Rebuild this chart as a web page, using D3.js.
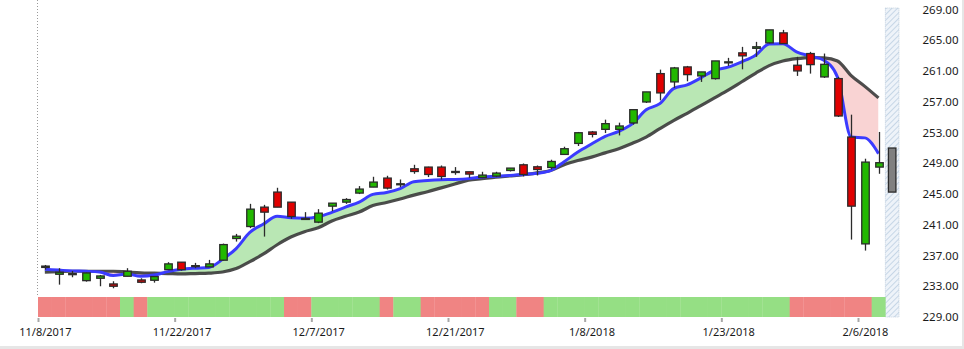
<!DOCTYPE html>
<html><head><meta charset="utf-8">
<script src="https://cdn.jsdelivr.net/npm/d3@7"></script>
<style>
html,body{margin:0;padding:0;background:#fff;}
svg{display:block;}
text{font-family:"Noto Sans","Open Sans",sans-serif;fill:#1a1a1a;}
</style></head><body>
<svg id="chart" width="964" height="349"></svg>
<script>
const dates = ["11/8/2017","11/9/2017","11/10/2017","11/13/2017","11/14/2017","11/15/2017","11/16/2017","11/17/2017","11/20/2017","11/21/2017",
"11/22/2017","11/24/2017","11/27/2017","11/28/2017","11/29/2017","11/30/2017","12/1/2017","12/4/2017","12/5/2017","12/6/2017",
"12/7/2017","12/8/2017","12/11/2017","12/12/2017","12/13/2017","12/14/2017","12/15/2017","12/18/2017","12/19/2017","12/20/2017",
"12/21/2017","12/22/2017","12/26/2017","12/27/2017","12/28/2017","12/29/2017","1/2/2018","1/3/2018","1/4/2018","1/5/2018",
"1/8/2018","1/9/2018","1/10/2018","1/11/2018","1/12/2018","1/16/2018","1/17/2018","1/18/2018","1/19/2018","1/22/2018",
"1/23/2018","1/24/2018","1/25/2018","1/26/2018","1/29/2018","1/30/2018","1/31/2018","2/1/2018","2/2/2018","2/5/2018",
"2/6/2018","2/7/2018","2/8/2018"];
const open  = [235.45,234.56,234.64,233.73,234.04,233.30,234.30,233.82,233.78,235.16,236.13,235.68,235.52,236.39,239.21,240.77,243.29,245.25,243.94,241.82,
241.34,243.42,243.94,245.12,245.90,247.07,246.33,248.28,248.50,248.50,247.93,247.89,247.15,247.33,248.06,248.80,248.54,248.45,250.15,251.58,
253.07,253.41,253.41,254.24,256.97,260.66,259.58,261.53,260.36,260.01,262.19,263.36,263.95,264.66,265.96,261.75,263.27,260.23,260.01,252.41,
238.51,248.50];
const high  = [235.77,235.35,234.99,234.77,234.47,233.65,235.35,234.04,234.30,236.13,236.13,236.04,236.43,238.55,239.81,243.72,243.59,245.81,243.94,242.64,
243.03,243.81,244.46,246.03,247.24,247.37,246.89,248.80,248.55,248.71,248.50,247.89,247.89,247.89,248.37,248.97,248.71,249.46,251.15,253.07,
253.20,254.67,254.28,255.97,258.28,261.18,261.53,261.66,260.88,262.31,262.71,264.14,264.79,266.35,266.35,262.84,263.49,263.27,260.23,255.32,
249.59,253.07];
const low   = [235.16,233.21,234.17,233.60,233.00,232.74,234.30,233.39,233.47,235.16,235.03,235.35,235.50,236.35,238.81,240.56,239.46,243.29,241.77,241.70,
241.21,242.77,243.72,244.99,245.90,245.59,245.90,247.63,247.20,246.89,247.50,247.11,247.07,247.20,247.93,247.28,247.41,248.19,250.15,251.24,
252.36,252.93,252.62,254.02,256.84,257.18,258.80,259.66,259.58,259.88,261.66,261.22,262.84,264.60,264.57,260.36,260.66,260.10,255.02,239.07,
237.64,247.63];
const close = [235.62,234.82,234.64,234.73,234.34,233.00,234.95,233.52,234.26,235.91,235.16,235.68,235.91,238.42,239.51,243.03,242.64,243.29,242.07,241.75,
242.51,243.81,244.28,245.64,246.55,245.77,246.33,247.93,247.54,247.28,247.93,247.59,247.46,247.72,248.37,247.54,248.19,249.23,250.89,252.97,
252.76,254.15,253.85,255.97,258.28,258.15,261.40,260.53,260.88,262.31,262.19,262.97,264.15,266.35,264.57,261.01,261.83,261.87,255.15,243.42,
249.15,249.07];
const fastMA = [235.20,235.10,235.00,234.95,234.85,234.40,234.60,234.30,234.45,234.90,235.20,235.35,235.45,236.50,237.90,240.00,241.10,242.10,241.90,241.85,
242.05,242.60,243.30,243.95,244.95,245.20,245.70,246.60,246.75,246.85,246.90,247.00,247.20,247.30,247.40,247.55,247.70,248.05,249.20,250.45,
251.50,252.50,253.15,254.15,255.95,256.75,258.70,259.20,260.10,261.10,261.50,262.20,263.05,264.50,264.55,263.50,262.95,262.40,260.20,252.40,
252.30,250.25];
const slowMA = [234.85,234.90,234.95,234.95,234.95,234.95,234.85,234.75,234.70,234.65,234.60,234.65,234.70,234.85,235.30,236.20,237.20,238.40,239.40,240.10,
240.60,241.50,242.10,242.65,243.50,243.90,244.35,244.85,245.30,245.80,246.30,246.80,247.00,247.20,247.35,247.50,247.75,248.05,248.80,249.35,
249.80,250.35,250.90,251.60,252.40,253.50,254.55,255.50,256.50,257.50,258.50,259.60,260.70,261.70,262.30,262.60,262.75,262.70,262.30,260.40,
259.00,257.50];
const signal = ["r","r","r","r","r","r","g","r","g","g","g","g","g","g","g","g","g","g","r","r",
"g","g","g","g","g","r","g","g","r","r","r","r","r","g","g","r","r","g","g","g",
"g","g","g","g","g","g","g","g","g","g","g","g","g","g","g","r","r","r","r","r",
"r","g"];
const forecastOpen = [250.98];
const forecastClose = [245.25];
const yTicks = [229,233,237,241,245,249,253,257,261,265,269];
const xTickIdx = [0,10,20,30,40,50,60];

const svg = d3.select("#chart");
const nSlots = dates.length; // 63
const x = d3.scaleLinear().domain([0, nSlots]).range([38, 899]);
const y = d3.scaleLinear().domain([229, 269]).range([317, 9.5]);
const step = x(1) - x(0);
const cw = 7.5;
const plotTop = 8, plotBottom = 317;

// background frame
svg.append("rect").attr("x",0).attr("y",0).attr("width",964).attr("height",349).attr("fill","#fff");
svg.append("rect").attr("x",0).attr("y",346).attr("width",964).attr("height",3).attr("fill","#e6e6e6");
svg.append("rect").attr("x",962).attr("y",0).attr("width",2).attr("height",349).attr("fill","#e6e6e6");

const defs = svg.append("defs");
const pat = defs.append("pattern").attr("id","hatch").attr("width",4).attr("height",4)
  .attr("patternUnits","userSpaceOnUse").attr("patternTransform","rotate(45)");
pat.append("rect").attr("width",4).attr("height",4).attr("fill","#eef3f9");
pat.append("line").attr("x1",0).attr("y1",0).attr("x2",0).attr("y2",4).attr("stroke","#c6d6e6").attr("stroke-width",2);

// left dotted line
svg.append("line").attr("x1",37.5).attr("x2",37.5).attr("y1",0).attr("y2",297)
  .attr("stroke","#9a9a9a").attr("stroke-dasharray","1,2");

// hatched future area
const fx0 = x(nSlots-1), fx1 = x(nSlots);
svg.append("rect").attr("x",fx0).attr("y",plotTop).attr("width",fx1-fx0).attr("height",plotBottom-plotTop)
  .attr("fill","url(#hatch)").attr("stroke","#b8c8d8").attr("stroke-dasharray","1,1").attr("stroke-width",0.8);

// signal strip
svg.append("g").selectAll("rect").data(signal).join("rect")
  .attr("x",(d,i)=>x(i)).attr("width",step+0.3).attr("y",297).attr("height",20)
  .attr("fill",d=>d==="r"?"#f08483":"#95df84");

// difference fill between MAs
const idx = d3.range(fastMA.length);
const cx = i => x(i+0.5);
const curve = d3.curveMonotoneX;
defs.append("clipPath").attr("id","belowFast").append("path")
  .attr("d", d3.area().curve(curve).x(cx).y0(plotBottom+50).y1(i=>y(fastMA[i]))(idx));
defs.append("clipPath").attr("id","aboveFast").append("path")
  .attr("d", d3.area().curve(curve).x(cx).y0(-50).y1(i=>y(fastMA[i]))(idx));
svg.append("path").attr("clip-path","url(#belowFast)").attr("fill","#b9e7b4")
  .attr("d", d3.area().curve(curve).x(cx).y0(i=>y(slowMA[i])).y1(-50)(idx));
svg.append("path").attr("clip-path","url(#aboveFast)").attr("fill","#f9d3d3")
  .attr("d", d3.area().curve(curve).x(cx).y0(i=>y(slowMA[i])).y1(plotBottom+50)(idx));

// MA lines
svg.append("path").attr("fill","none").attr("stroke","#3a3a3a").attr("stroke-width",3.2)
  .attr("stroke-linejoin","round").attr("opacity",0.9)
  .attr("d", d3.line().curve(curve).x(cx).y(i=>y(slowMA[i]))(idx));
svg.append("path").attr("fill","none").attr("stroke","#3b3bff").attr("stroke-width",3)
  .attr("stroke-linejoin","round")
  .attr("d", d3.line().curve(curve).x(cx).y(i=>y(fastMA[i]))(idx));

// candles
const cg = svg.append("g");
const cidx = d3.range(open.length);
cg.selectAll("line.w").data(cidx).join("line").attr("class","w")
  .attr("x1",i=>Math.round(cx(i))+0.5).attr("x2",i=>Math.round(cx(i))+0.5)
  .attr("y1",i=>y(high[i])).attr("y2",i=>y(low[i]))
  .attr("stroke","#2b2b2b").attr("stroke-width",1.3);
cg.selectAll("rect.b").data(cidx).join("rect").attr("class","b")
  .attr("x",i=>Math.round(cx(i))+0.5-cw/2).attr("width",cw)
  .attr("y",i=>y(Math.max(open[i],close[i])))
  .attr("height",i=>Math.max(1,Math.abs(y(open[i])-y(close[i]))))
  .attr("fill",i=>close[i]>=open[i]?"#22b800":"#e00000")
  .attr("stroke","#2b2b2b").attr("stroke-width",1.3);

// forecast candle
svg.append("g").selectAll("rect").data(forecastOpen).join("rect")
  .attr("x",(d,i)=>x(nSlots-1+0.5)-cw/2).attr("width",cw)
  .attr("y",(d,i)=>y(Math.max(d,forecastClose[i])))
  .attr("height",(d,i)=>Math.abs(y(d)-y(forecastClose[i])))
  .attr("fill","#808080").attr("stroke","#2b2b2b").attr("stroke-width",1.3);

// y axis
const ya = svg.append("g").attr("transform","translate(958.5,0)")
  .call(d3.axisLeft(y).tickValues(yTicks).tickFormat(d3.format(".2f")).tickSize(0).tickPadding(0));
ya.select(".domain").remove();
ya.selectAll("text").style("font-size","11.5px").attr("fill","#1a1a1a").style("font-family","'Noto Sans','Open Sans',sans-serif");

// x axis: ticks at slot starts, labels centred on the candle
const xa = svg.append("g").attr("transform",`translate(0,${plotBottom+1})`)
  .call(d3.axisBottom(x).tickValues(xTickIdx).tickFormat(i=>dates[i]).tickSize(4).tickPadding(6));
xa.select(".domain").remove();
xa.selectAll("line").attr("stroke","#a8a8a8").attr("stroke-width",2);
xa.selectAll("text").attr("x", step/2).style("font-size","11px").attr("fill","#1a1a1a").style("font-family","'Noto Sans','Open Sans',sans-serif");
</script>
</body></html>
